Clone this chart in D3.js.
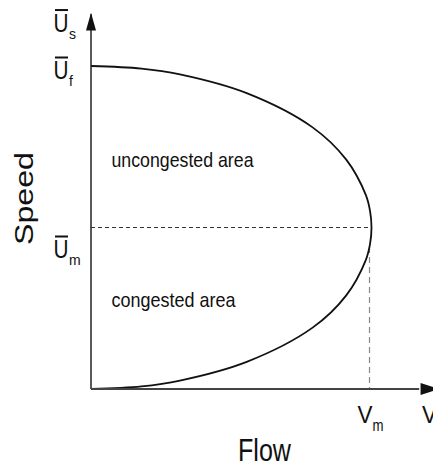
<!DOCTYPE html>
<html>
<head>
<meta charset="utf-8">
<script src="https://cdn.jsdelivr.net/npm/d3@7"></script>
<style>
  body { margin: 0; background: #fff; }
  svg { display: block; font-family: "Liberation Sans", Arial, sans-serif; }
  text { fill: #111; }
</style>
</head>
<body>
<svg width="433" height="467"></svg>
<script>
// speed-flow curve, normalised: speed 1 = Uf, flow 1 = Vm
const speedValues = [0, 0.008, 0.026, 0.084, 0.19, 0.29, 0.40, 0.45, 0.5, 0.55, 0.60, 0.71, 0.81, 0.916, 0.974, 0.992, 1];
const flowValues  = [0, 0.18, 0.317, 0.555, 0.79, 0.91, 0.98, 0.995, 1, 0.995, 0.98, 0.91, 0.79, 0.555, 0.317, 0.18, 0];

const speedTickSubs   = ['s', 'f', 'm'];
const speedTickValues = [1.15, 1, 0.5];
const flowTickSubs    = ['m', ''];
const flowTickValues  = [1, 1.23];

const areaLabels = ['uncongested area', 'congested area'];

function whenLoaded() {
  const svg = d3.select('svg');

  const x = d3.scaleLinear().domain([0, 1]).range([91, 371.5]);
  const y = d3.scaleLinear().domain([0, 1]).range([389, 66]);

  const points = speedValues.map((s, i) => ({ speed: s, flow: flowValues[i] }));

  // dashed guides at the capacity point
  svg.append('line')
    .attr('x1', x(0)).attr('x2', x(1) - 3)
    .attr('y1', y(0.5)).attr('y2', y(0.5))
    .attr('stroke', '#333').attr('stroke-width', 1.1)
    .attr('stroke-dasharray', '4,3');

  svg.append('line')
    .attr('x1', x(1) - 2).attr('x2', x(1) - 2)
    .attr('y1', y(0.44)).attr('y2', y(0))
    .attr('stroke', '#888').attr('stroke-width', 1.2)
    .attr('stroke-dasharray', '6,4');

  // curve
  const line = d3.line()
    .x(d => x(d.flow))
    .y(d => y(d.speed))
    .curve(d3.curveCatmullRom.alpha(0.5));

  svg.append('path')
    .datum(points)
    .attr('d', line)
    .attr('fill', 'none')
    .attr('stroke', '#111')
    .attr('stroke-width', 1.8);

  // axes with arrows
  svg.append('line')
    .attr('x1', x(0)).attr('x2', x(0))
    .attr('y1', y(0)).attr('y2', y(1.16))
    .attr('stroke', '#222').attr('stroke-width', 1.5);
  svg.append('path')
    .attr('d', `M${x(0)},${y(1.165)} L${x(0) - 5},${y(1.11)} L${x(0) + 5},${y(1.11)} Z`)
    .attr('fill', '#111');

  svg.append('line')
    .attr('x1', x(0)).attr('x2', x(1.17))
    .attr('y1', y(0)).attr('y2', y(0))
    .attr('stroke', '#444').attr('stroke-width', 1.8);
  svg.append('path')
    .attr('d', `M${x(1.24)},${y(0)} L${x(1.175)},${y(0) - 6} L${x(1.175)},${y(0) + 6} Z`)
    .attr('fill', '#111');

  // speed labels (U with overbar + subscript)
  const uOffsets = { s: 14, f: 13, m: 30.5 };
  speedTickSubs.forEach((sub, i) => {
    const yb = y(speedTickValues[i]) + uOffsets[sub];
    svg.append('text')
      .attr('x', 53.5).attr('y', yb)
      .attr('font-size', 25)
      .attr('textLength', 15).attr('lengthAdjust', 'spacingAndGlyphs')
      .text('U');
    svg.append('line')
      .attr('x1', 55).attr('x2', 68)
      .attr('y1', yb - 21.5).attr('y2', yb - 21.5)
      .attr('stroke', '#111').attr('stroke-width', 2);
    svg.append('text')
      .attr('x', 69).attr('y', yb + 7)
      .attr('font-size', 14)
      .text(sub);
  });

  // flow labels
  flowTickSubs.forEach((sub, i) => {
    const xl = x(flowTickValues[i]) - 14;
    svg.append('text')
      .attr('x', xl).attr('y', 423)
      .attr('font-size', 24)
      .attr('textLength', 15).attr('lengthAdjust', 'spacingAndGlyphs')
      .text('V');
    if (sub) {
      svg.append('text')
        .attr('x', xl + 15).attr('y', 431)
        .attr('font-size', 17)
        .attr('textLength', 11).attr('lengthAdjust', 'spacingAndGlyphs')
        .text(sub);
    }
  });

  // area labels
  const areaY = [167, 307];
  const areaW = [142, 124];
  areaLabels.forEach((t, i) => {
    svg.append('text')
      .attr('x', 111.5).attr('y', areaY[i])
      .attr('font-size', 21)
      .attr('textLength', areaW[i]).attr('lengthAdjust', 'spacingAndGlyphs')
      .text(t);
  });

  // axis titles
  svg.append('text')
    .attr('x', 238).attr('y', 461)
    .attr('font-size', 32)
    .attr('textLength', 53).attr('lengthAdjust', 'spacingAndGlyphs')
    .text('Flow');

  svg.append('text')
    .attr('transform', 'translate(33,198.5) scale(0.8,1) rotate(-90)')
    .attr('text-anchor', 'middle')
    .attr('font-size', 32)
    .attr('textLength', 93).attr('lengthAdjust', 'spacingAndGlyphs')
    .text('Speed');
}

window.onload = whenLoaded;
</script>
</body>
</html>
